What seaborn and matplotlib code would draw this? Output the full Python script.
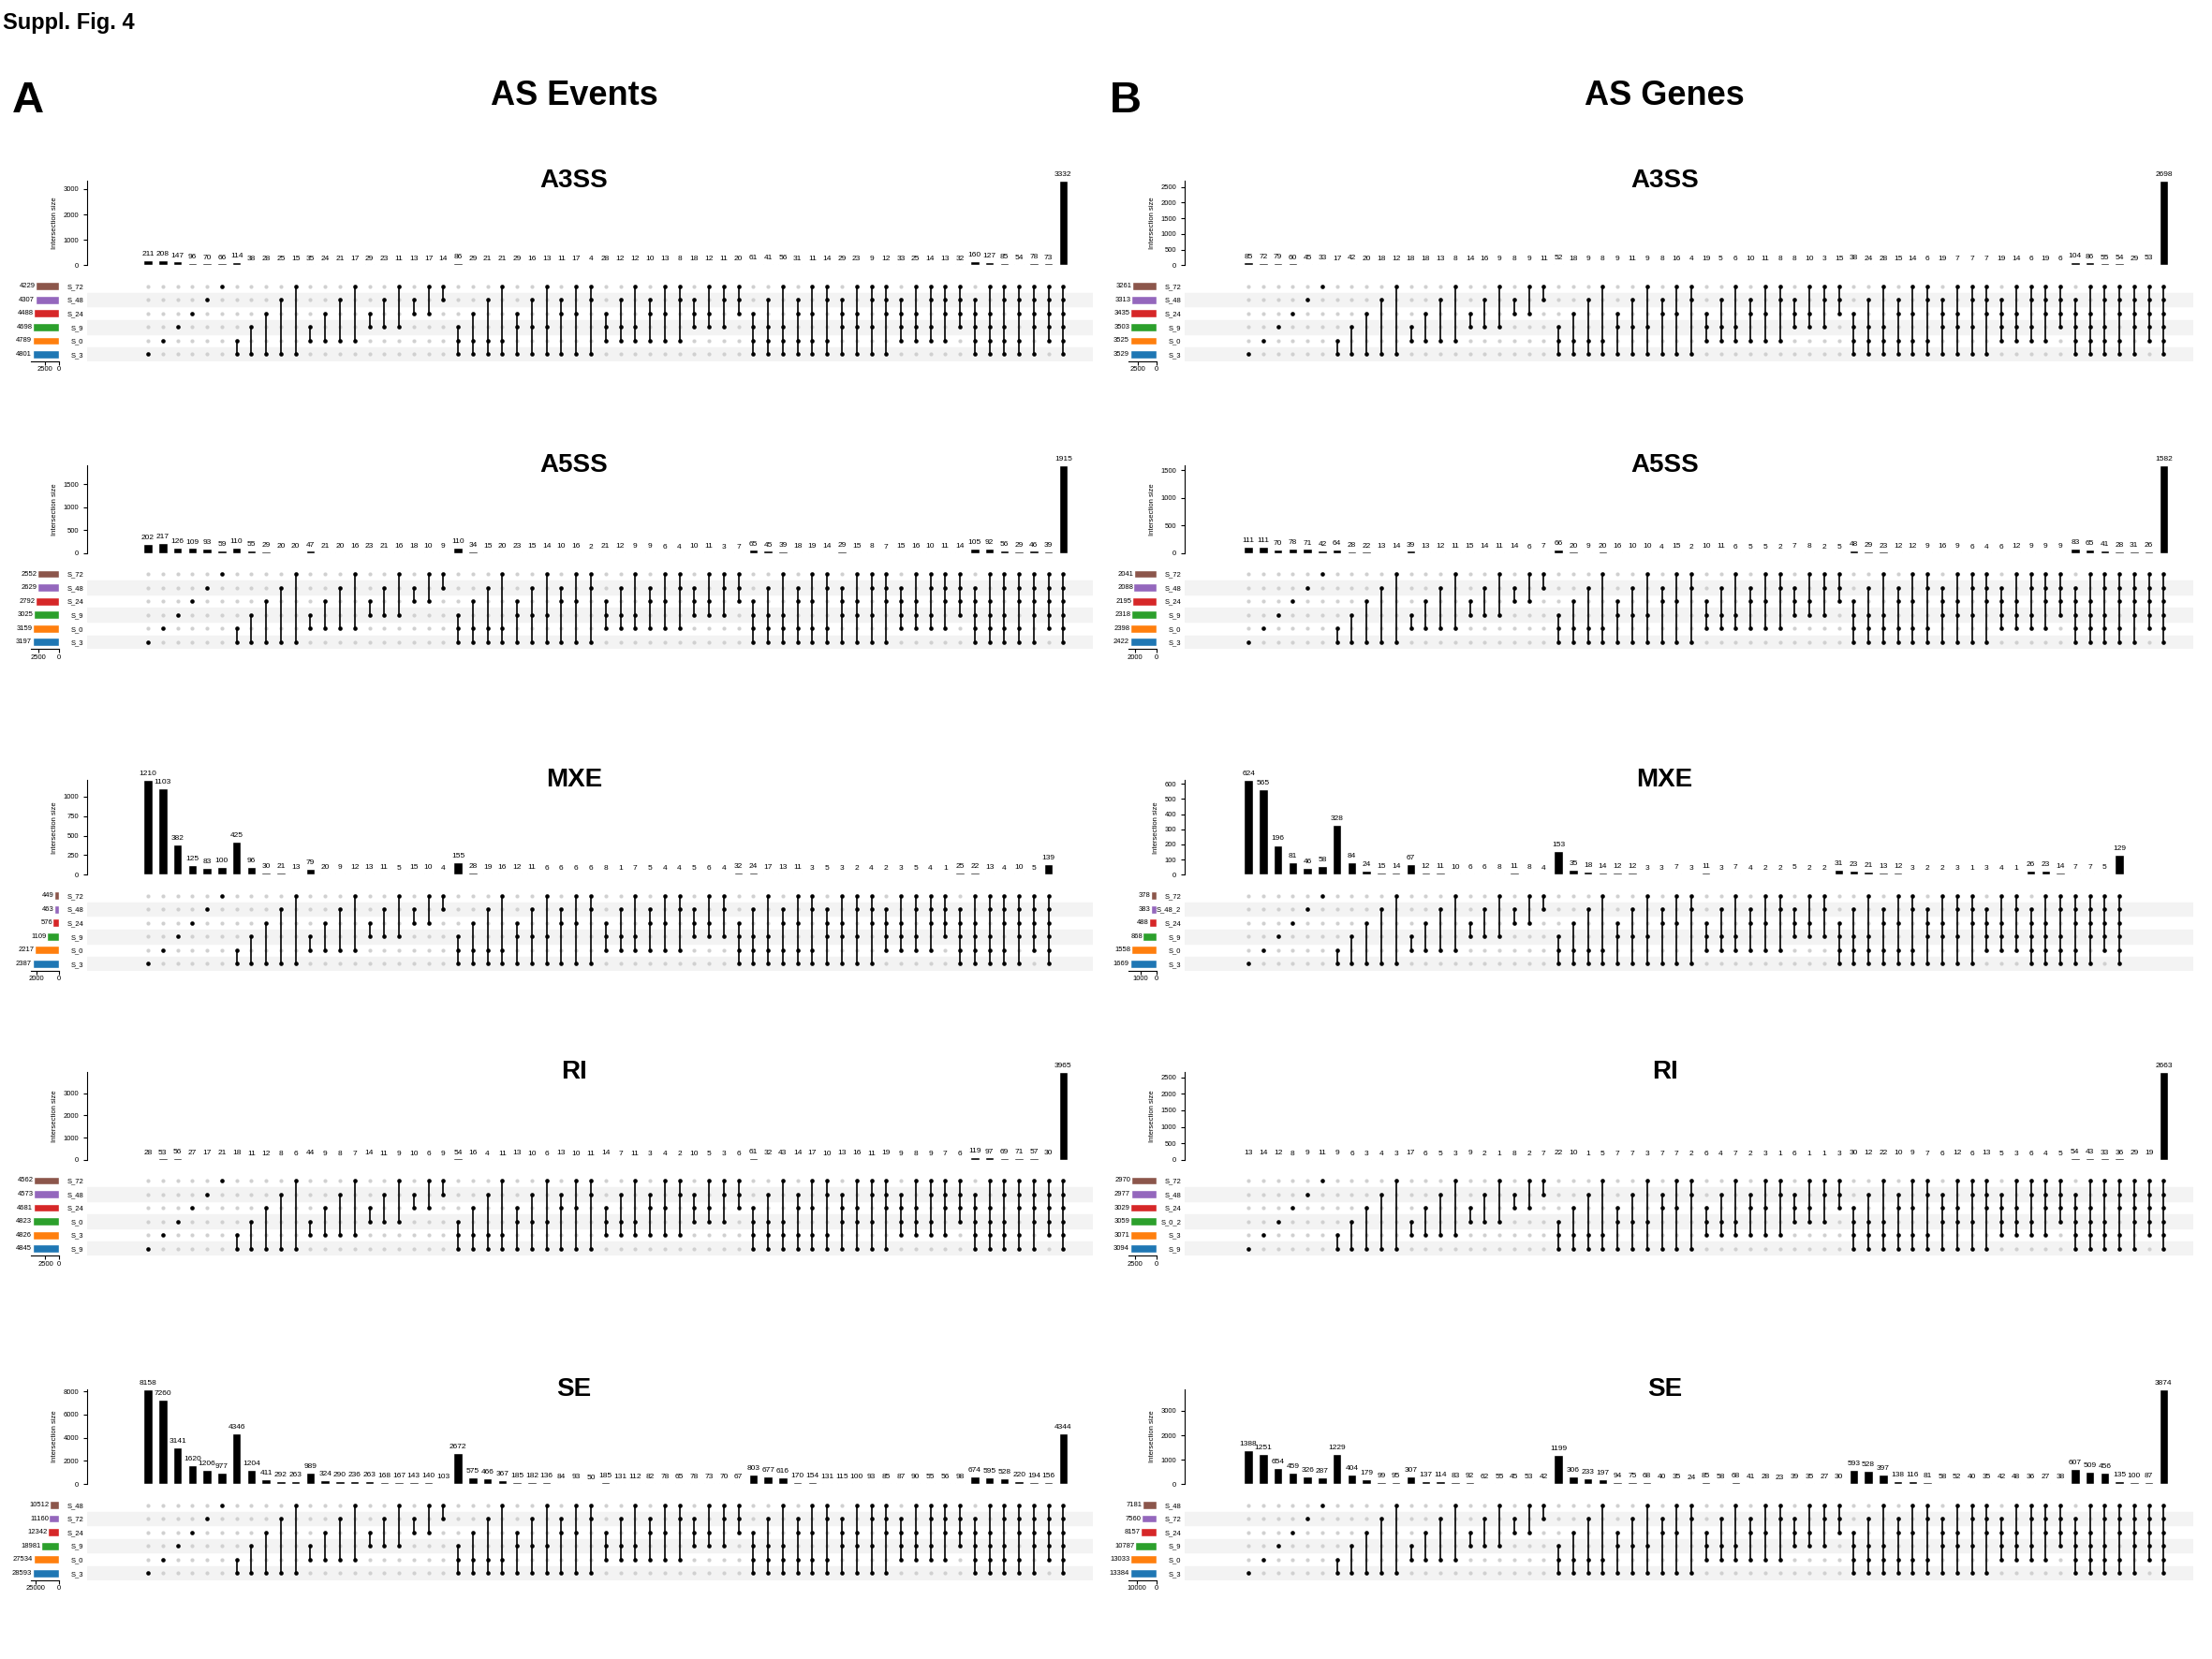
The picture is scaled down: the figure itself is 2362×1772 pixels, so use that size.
import itertools
import numpy as np
import pandas as pd
import matplotlib
matplotlib.use("Agg")
import matplotlib.pyplot as plt
import seaborn as sns

sns.set_style("white")
plt.rcParams['font.family'] = ['Liberation Sans', 'DejaVu Sans']
for k in ['text.color', 'axes.labelcolor', 'xtick.color', 'ytick.color', 'axes.edgecolor']:
    plt.rcParams[k] = 'black'

# ---------------- data ----------------
set_colors = ["#8c564b", "#9467bd", "#d62728", "#2ca02c", "#ff7f0e", "#1f77b4"]  # top -> bottom

a3ss_ev_sets = ["S_72", "S_48", "S_24", "S_9", "S_0", "S_3"]
a3ss_ev_sizes = [4229, 4307, 4488, 4698, 4789, 4801]
a3ss_ev_inter = [211, 208, 147, 96, 70, 66,
                 114, 38, 28, 25, 15, 35, 24, 21, 17, 29, 23, 11, 13, 17, 14,
                 86, 29, 21, 21, 29, 16, 13, 11, 17, 4, 28, 12, 12, 10, 13, 8, 18, 12, 11, 20,
                 61, 41, 56, 31, 11, 14, 29, 23, 9, 12, 33, 25, 14, 13, 32,
                 160, 127, 85, 54, 78, 73, 3332]
a3ss_ge_sets = ["S_72", "S_48", "S_24", "S_9", "S_0", "S_3"]
a3ss_ge_sizes = [3261, 3313, 3435, 3503, 3525, 3529]
a3ss_ge_inter = [85, 72, 79, 60, 45, 33,
                 17, 42, 20, 18, 12, 18, 18, 13, 8, 14, 16, 9, 8, 9, 11,
                 52, 18, 9, 8, 9, 11, 9, 8, 16, 4, 19, 5, 6, 10, 11, 8, 8, 10, 3, 15,
                 38, 24, 28, 15, 14, 6, 19, 7, 7, 7, 19, 14, 6, 19, 6,
                 104, 86, 55, 54, 29, 53, 2698]
a5ss_ev_sets = ["S_72", "S_48", "S_24", "S_9", "S_0", "S_3"]
a5ss_ev_sizes = [2552, 2629, 2792, 3025, 3159, 3197]
a5ss_ev_inter = [202, 217, 126, 109, 93, 59,
                 110, 55, 29, 20, 20, 47, 21, 20, 16, 23, 21, 16, 18, 10, 9,
                 110, 34, 15, 20, 23, 15, 14, 10, 16, 2, 21, 12, 9, 9, 6, 4, 10, 11, 3, 7,
                 65, 45, 39, 18, 19, 14, 29, 15, 8, 7, 15, 16, 10, 11, 14,
                 105, 92, 56, 29, 46, 39, 1915]
a5ss_ge_sets = ["S_72", "S_48", "S_24", "S_9", "S_0", "S_3"]
a5ss_ge_sizes = [2041, 2088, 2195, 2318, 2398, 2422]
a5ss_ge_inter = [111, 111, 70, 78, 71, 42,
                 64, 28, 22, 13, 14, 39, 13, 12, 11, 15, 14, 11, 14, 6, 7,
                 66, 20, 9, 20, 16, 10, 10, 4, 15, 2, 10, 11, 6, 5, 5, 2, 7, 8, 2, 5,
                 48, 29, 23, 12, 12, 9, 16, 9, 6, 4, 6, 12, 9, 9, 9,
                 83, 65, 41, 28, 31, 26, 1582]
mxe_ev_sets = ["S_72", "S_48", "S_24", "S_9", "S_0", "S_3"]
mxe_ev_sizes = [449, 463, 576, 1109, 2217, 2387]
mxe_ev_inter = [1210, 1103, 382, 125, 83, 100,
                425, 96, 30, 21, 13, 79, 20, 9, 12, 13, 11, 5, 15, 10, 4,
                155, 28, 19, 16, 12, 11, 6, 6, 6, 6, 8, 1, 7, 5, 4, 4, 5, 6, 4,
                32, 24, 17, 13, 11, 3, 5, 3, 2, 4, 2, 3, 5, 4, 1,
                25, 22, 13, 4, 10, 5, 139]
mxe_ev_degrees = [6, 15, 19, 15, 6, 1]
mxe_ge_sets = ["S_72", "S_48_2", "S_24", "S_9", "S_0", "S_3"]
mxe_ge_sizes = [378, 383, 488, 868, 1558, 1669]
mxe_ge_inter = [624, 565, 196, 81, 46, 58,
                328, 84, 24, 15, 14, 67, 12, 11, 10, 6, 6, 8, 11, 8, 4,
                153, 35, 18, 14, 12, 12, 3, 3, 7, 3, 11, 3, 7, 4, 2, 2, 5, 2, 2,
                31, 23, 21, 13, 12, 3, 2, 2, 3, 1, 3, 4, 1,
                26, 23, 14, 7, 7, 5, 129]
mxe_ge_degrees = [6, 15, 19, 13, 6, 1]
ri_ev_sets = ["S_72", "S_48", "S_24", "S_0", "S_3", "S_9"]
ri_ev_sizes = [4562, 4573, 4681, 4823, 4826, 4845]
ri_ev_inter = [28, 53, 56, 27, 17, 21,
               18, 11, 12, 8, 6, 44, 9, 8, 7, 14, 11, 9, 10, 6, 9,
               54, 16, 4, 11, 13, 10, 6, 13, 10, 11, 14, 7, 11, 3, 4, 2, 10, 5, 3, 6,
               61, 32, 43, 14, 17, 10, 13, 16, 11, 19, 9, 8, 9, 7, 6,
               119, 97, 69, 71, 57, 30, 3965]
ri_ge_sets = ["S_72", "S_48", "S_24", "S_0_2", "S_3", "S_9"]
ri_ge_sizes = [2970, 2977, 3029, 3059, 3071, 3094]
ri_ge_inter = [13, 14, 12, 8, 9, 11,
               9, 6, 3, 4, 3, 17, 6, 5, 3, 9, 2, 1, 8, 2, 7,
               22, 10, 1, 5, 7, 7, 3, 7, 7, 2, 6, 4, 7, 2, 3, 1, 6, 1, 1, 3,
               30, 12, 22, 10, 9, 7, 6, 12, 6, 13, 5, 3, 6, 4, 5,
               54, 43, 33, 36, 29, 19, 2663]
se_ev_sets = ["S_48", "S_72", "S_24", "S_9", "S_0", "S_3"]
se_ev_sizes = [10512, 11160, 12342, 18981, 27534, 28593]
se_ev_inter = [8158, 7260, 3141, 1620, 1206, 977,
               4346, 1204, 411, 292, 263, 989, 324, 290, 236, 263, 168, 167, 143, 140, 103,
               2672, 575, 466, 367, 185, 182, 136, 84, 93, 50, 185, 131, 112, 82, 78, 65, 78, 73, 70, 67,
               803, 677, 616, 170, 154, 131, 115, 100, 93, 85, 87, 90, 55, 56, 98,
               674, 595, 528, 220, 194, 156, 4344]
se_ge_sets = ["S_48", "S_72", "S_24", "S_9", "S_0", "S_3"]
se_ge_sizes = [7181, 7560, 8157, 10787, 13033, 13384]
se_ge_inter = [1388, 1251, 654, 459, 326, 287,
               1229, 404, 179, 99, 95, 307, 137, 114, 83, 92, 62, 55, 45, 53, 42,
               1199, 306, 233, 197, 94, 75, 68, 40, 35, 24, 85, 58, 68, 41, 28, 23, 39, 35, 27, 30,
               593, 528, 397, 138, 116, 81, 58, 52, 40, 35, 42, 48, 36, 27, 38,
               607, 509, 456, 135, 100, 87, 3874]
full_degrees = [6, 15, 20, 15, 6, 1]

panels = [
    ("A3SS", a3ss_ev_sets, a3ss_ev_sizes, a3ss_ev_inter, full_degrees, 1000, 2500, 0, 128, 188),
    ("A3SS", a3ss_ge_sets, a3ss_ge_sizes, a3ss_ge_inter, full_degrees, 500, 2500, 1, 128, 188),
    ("A5SS", a5ss_ev_sets, a5ss_ev_sizes, a5ss_ev_inter, full_degrees, 500, 2500, 0, 330, 392),
    ("A5SS", a5ss_ge_sets, a5ss_ge_sizes, a5ss_ge_inter, full_degrees, 500, 2000, 1, 330, 392),
    ("MXE", mxe_ev_sets, mxe_ev_sizes, mxe_ev_inter, mxe_ev_degrees, 250, 2000, 0, 553, 620),
    ("MXE", mxe_ge_sets, mxe_ge_sizes, mxe_ge_inter, mxe_ge_degrees, 100, 1000, 1, 553, 620),
    ("RI", ri_ev_sets, ri_ev_sizes, ri_ev_inter, full_degrees, 1000, 2500, 0, 760, 822),
    ("RI", ri_ge_sets, ri_ge_sizes, ri_ge_inter, full_degrees, 500, 2500, 1, 760, 822),
    ("SE", se_ev_sets, se_ev_sizes, se_ev_inter, full_degrees, 2000, 25000, 0, 985, 1052),
    ("SE", se_ge_sets, se_ge_sizes, se_ge_inter, full_degrees, 1000, 10000, 1, 985, 1052),
]

W, H = 1568.0, 1176.0
fig = plt.figure(figsize=(23.62, 17.72), dpi=100)

def fx(x): return x / W
def fy(y): return 1 - y / H

def rect(x0, y0, x1, y1):
    return [fx(x0), fy(y1), fx(x1) - fx(x0), fy(y0) - fy(y1)]

cols = [dict(ax0=62, ax1=760, s0=22, s1=42, tx=407, xmin=-4.1),
        dict(ax0=840, ax1=1540, s0=800, s1=820, tx=1180, xmin=-4.3)]
XMAX = 62.6

for title, sets, sizes, inter, degrees, ystep, stick, c, yt, yb in panels:
    g = cols[c]
    nset = len(sets)
    combos = []
    for k, cnt in enumerate(degrees, start=1):
        combos += list(itertools.combinations(range(nset), k))[:cnt]
    n = len(inter)
    xs = np.arange(n)

    axb = fig.add_axes(rect(g['ax0'], yt, g['ax1'], yb))
    dfb = pd.DataFrame({"x": xs, "v": inter})
    sns.barplot(data=dfb, x="x", y="v", native_scale=True, color="black",
                width=0.6, ax=axb, saturation=1)
    vmax = max(inter)
    axb.set_xlim(g['xmin'], XMAX)
    axb.set_ylim(0, vmax * 1.0)
    axb.set_yticks(np.arange(0, vmax + 1, ystep))
    axb.tick_params(axis='y', labelsize=5.5, length=3, left=True)
    axb.set_xticks([])
    axb.set_xlabel("")
    axb.set_ylabel("Intersection size", fontsize=5.5)
    for s in ["top", "right", "bottom"]:
        axb.spines[s].set_visible(False)
    axb.spines['left'].set_linewidth(0.8)
    for x, v in zip(xs, inter):
        axb.text(x, v + vmax * 0.03, str(v), ha='center', va='bottom', fontsize=6)

    my0 = yb + 10
    my1 = my0 + 58
    axm = fig.add_axes(rect(g['ax0'], my0, g['ax1'] + 15, my1))
    axm.set_xlim(g['xmin'], XMAX + 15 / 10.5)
    axm.set_ylim(-0.5, nset - 0.5)
    for r in range(0, nset, 2):
        axm.axhspan(r - 0.5, r + 0.5, color="#f3f3f3", zorder=0)
    pts = []
    for x, comb in zip(xs, combos):
        for r in range(nset):
            pts.append((x, r, r in comb))
    dfp = pd.DataFrame(pts, columns=["x", "r", "m"])
    sns.scatterplot(data=dfp[~dfp.m], x="x", y="r", color="#d0d0d0", s=9,
                    linewidth=0, ax=axm, zorder=2)
    for x, comb in zip(xs, combos):
        if len(comb) > 1:
            axm.plot([x, x], [min(comb), max(comb)], color="black", lw=1.2, zorder=3)
    sns.scatterplot(data=dfp[dfp.m], x="x", y="r", color="black", s=11,
                    linewidth=0, ax=axm, zorder=4)
    axm.set_xticks([])
    axm.set_yticks(range(nset))
    axm.set_yticklabels(sets[::-1], fontsize=5.5)
    axm.tick_params(axis='y', length=0, pad=3)
    axm.set_xlabel("")
    axm.set_ylabel("")
    for s in axm.spines.values():
        s.set_visible(False)

    axs = fig.add_axes(rect(g['s0'], my0, g['s1'], my1))
    dfs = pd.DataFrame({"r": np.arange(nset), "v": sizes[::-1]})
    sns.barplot(data=dfs, y="r", x="v", orient="h", native_scale=True,
                hue="r", palette=set_colors[::-1], legend=False, width=0.6,
                ax=axs, saturation=1)
    smax = max(sizes)
    axs.set_xlim(smax * 1.05, 0)
    axs.set_ylim(-0.5, nset - 0.5)
    axs.set_yticks([])
    axs.set_xticks([stick, 0])
    axs.set_xticklabels([str(stick), "0"], fontsize=5.5)
    axs.tick_params(axis='x', length=3, bottom=True, pad=1)
    axs.set_xlabel("")
    axs.set_ylabel("")
    for s in ["top", "right", "left"]:
        axs.spines[s].set_visible(False)
    axs.spines['bottom'].set_linewidth(0.8)
    for r, v in enumerate(sizes[::-1]):
        axs.text(v * 1.02, r, str(v), ha='right', va='center', fontsize=5.5)

    fig.text(fx(g['tx']), fy(yt), title, ha='center', va='center',
             fontsize=20, fontweight='bold')

fig.text(fx(2), fy(16), "Suppl. Fig. 4", ha='left', va='center', fontsize=17, fontweight='bold')
fig.text(fx(20), fy(72), "A", ha='center', va='center', fontsize=34, fontweight='bold')
fig.text(fx(798), fy(72), "B", ha='center', va='center', fontsize=34, fontweight='bold')
fig.text(fx(407), fy(68), "AS Events", ha='center', va='center', fontsize=26, fontweight='bold')
fig.text(fx(1180), fy(68), "AS Genes", ha='center', va='center', fontsize=26, fontweight='bold')

fig.savefig("out.png", dpi=100, facecolor="white")
